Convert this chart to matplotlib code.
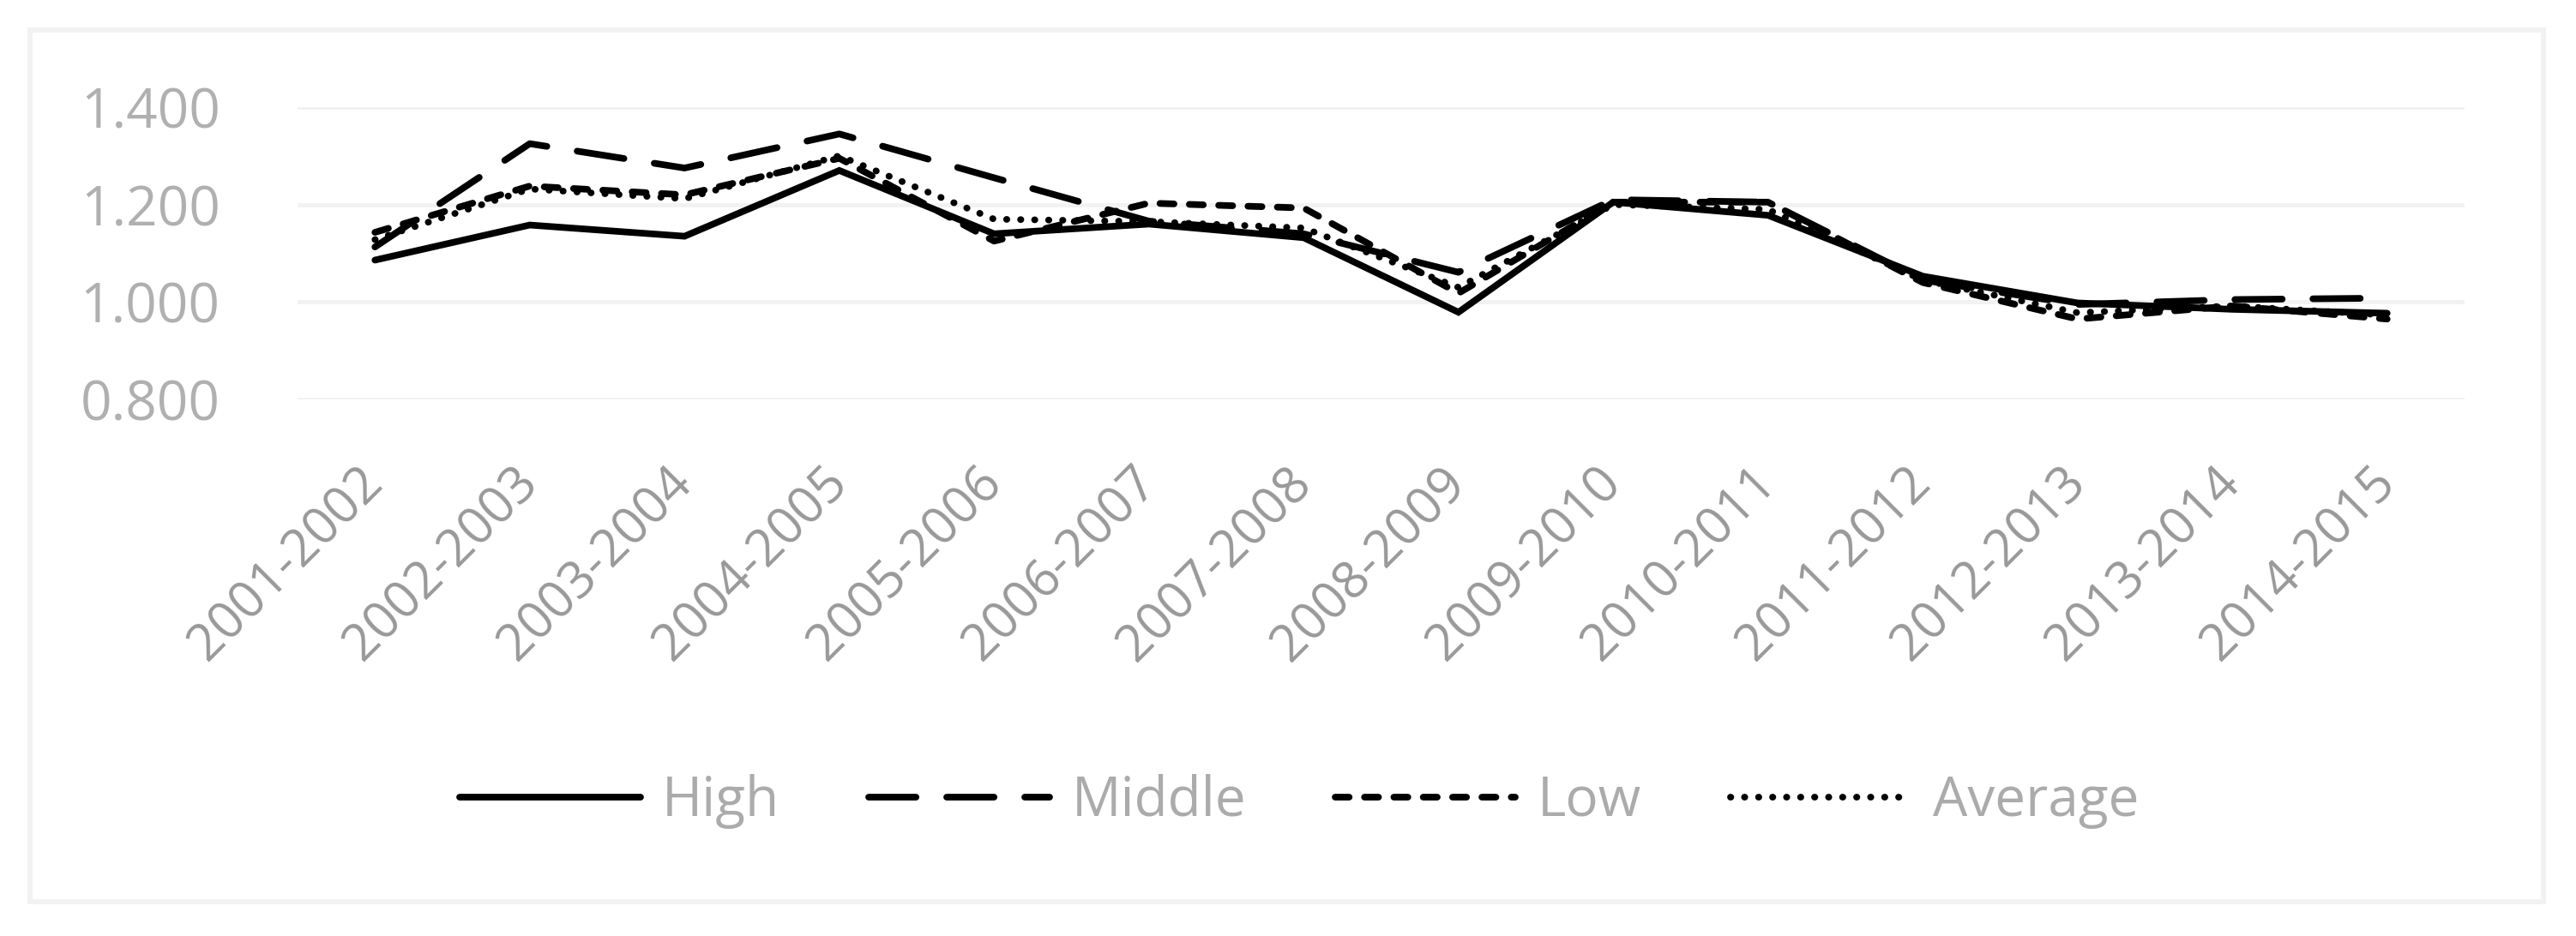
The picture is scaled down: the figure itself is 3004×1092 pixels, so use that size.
import matplotlib
matplotlib.use("Agg")
import matplotlib.pyplot as plt
from matplotlib.patches import Rectangle

# ---- data ----
categories = ["2001-2002", "2002-2003", "2003-2004", "2004-2005", "2005-2006",
              "2006-2007", "2007-2008", "2008-2009", "2009-2010", "2010-2011",
              "2011-2012", "2012-2013", "2013-2014", "2014-2015"]
high = [1.086, 1.158, 1.135, 1.270, 1.140, 1.160, 1.132, 0.979, 1.205, 1.178,
        1.053, 0.998, 0.985, 0.977]
middle = [1.113, 1.325, 1.275, 1.345, 1.255, 1.166, 1.140, 1.061, 1.210, 1.205,
          1.045, 0.995, 1.005, 1.008]
low = [1.143, 1.238, 1.220, 1.295, 1.125, 1.203, 1.193, 1.018, 1.205, 1.205,
       1.040, 0.965, 0.992, 0.965]
average = [1.128, 1.232, 1.212, 1.300, 1.170, 1.165, 1.152, 1.030, 1.200, 1.190,
           1.045, 0.978, 0.992, 0.973]
yticks = [0.8, 1.0, 1.2, 1.4]
series_names = ["High", "Middle", "Low", "Average"]

plt.rcParams['font.family'] = ['Open Sans', 'DejaVu Sans']

W, H = 3004, 1092
fig = plt.figure(figsize=(W / 100, H / 100), dpi=100)
fig.patch.set_facecolor("white")

# chart-area border
fig.patches.append(Rectangle((35 / W, 1 - 1052 / H), (2966 - 35) / W, (1052 - 35) / H,
                             transform=fig.transFigure, fill=False,
                             ec="#f2f2f2", lw=4.3))

ax = fig.add_axes([347 / W, 1 - 466 / H, (2874 - 347) / W, (466 - 125) / H])
x = list(range(len(categories)))
lw = 5.6
kw = dict(color="black", lw=lw, solid_capstyle="round", dash_capstyle="round",
          solid_joinstyle="miter")
l1, = ax.plot(x, high, label=series_names[0], **kw)
l2, = ax.plot(x, middle, label=series_names[1], **kw)
l2.set_dashes([7.1, 4.6])
l3, = ax.plot(x, low, label=series_names[2], **kw)
l3.set_dashes([2.1, 2.3])
l4, = ax.plot(x, average, label=series_names[3], **kw)
l4.set_dashes([0.05, 2.05])

ax.set_xlim(-0.5, len(categories) - 0.5)
ax.set_ylim(0.8, 1.4)
ax.set_yticks(yticks)
ax.set_yticklabels([f"{v:.3f}" for v in yticks], fontsize=46, color="#b0b0b0")
ax.set_xticks(x)
ax.set_xticklabels(categories, fontsize=43, color="#999999", rotation=45,
                   ha="right", va="center", rotation_mode="anchor")
ax.tick_params(axis="y", length=0, pad=65)
ax.tick_params(axis="x", length=0, pad=64)
ax.yaxis.grid(True, color="#f2f2f2", lw=3.6)
ax.set_axisbelow(True)
for s in ax.spines.values():
    s.set_visible(False)

leg = fig.legend(handles=[l1, l2, l3, l4], loc="center",
                 bbox_to_anchor=(0.5044, 1 - 935 / H), ncol=4, frameon=False,
                 fontsize=46, handlelength=3.3, handletextpad=0.4,
                 columnspacing=1.62)
for t in leg.get_texts():
    t.set_color("#ababab")

fig.savefig("out.png", dpi=100)
